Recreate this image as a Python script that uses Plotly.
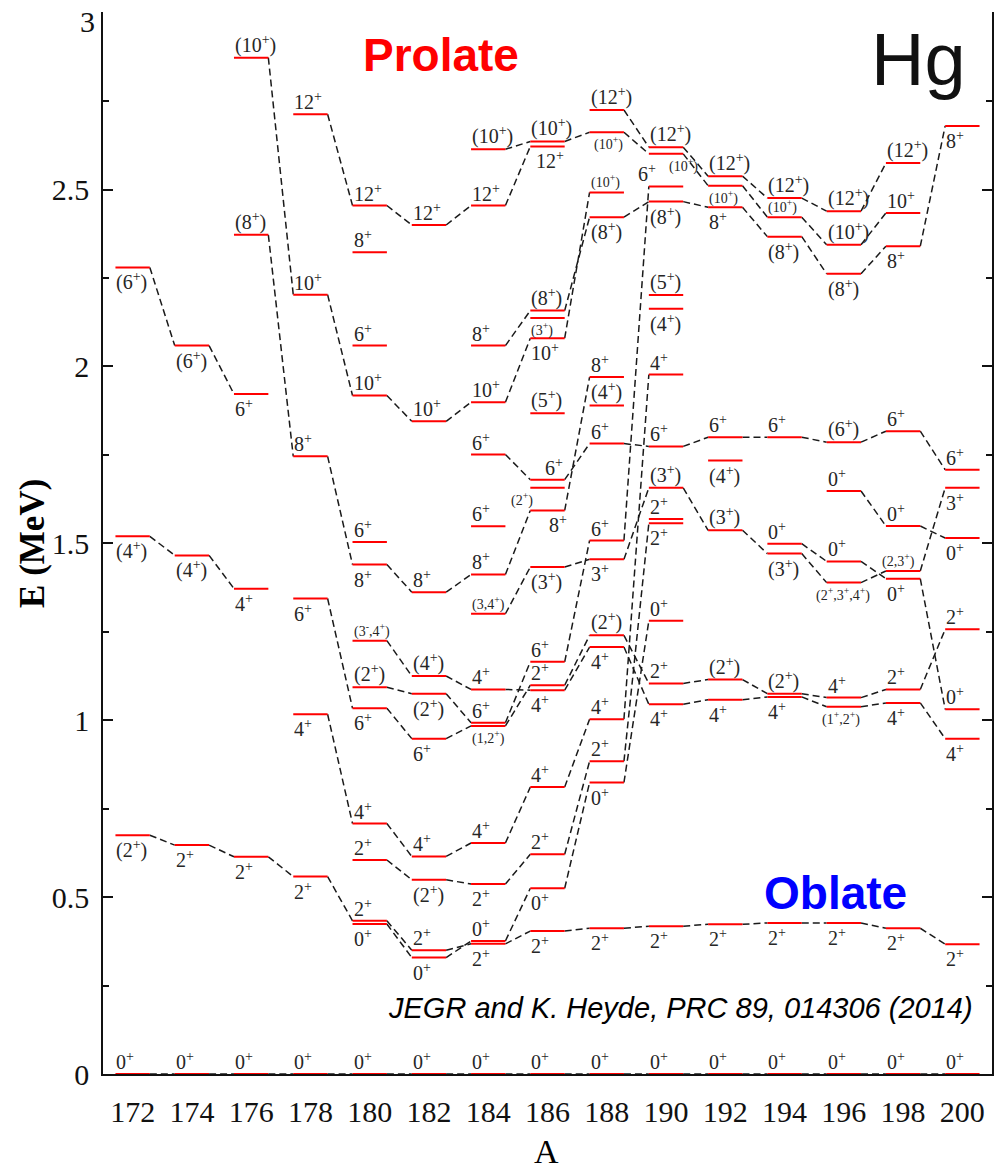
import plotly.graph_objects as go

# ---------------- DATA ----------------
MASSES = [172, 174, 176, 178, 180, 182, 184, 186, 188, 190, 192, 194, 196, 198, 200]
Y_TICKS = [0, 0.5, 1, 1.5, 2, 2.5, 3]
Y_TICK_TEXT = ["0", "0.5", "1", "1.5", "2", "2.5", "3"]

E172 = [0, 0.675, 1.520, 2.280]
J172 = ["0+", "(2+)", "(4+)", "(6+)"]
E174 = [0, 0.647, 1.466, 2.059]
J174 = ["0+", "2+", "(4+)", "(6+)"]
E176 = [0, 0.614, 1.372, 1.922, 2.372, 2.873]
J176 = ["0+", "2+", "4+", "6+", "(8+)", "(10+)"]
E178 = [0, 0.558, 1.017, 1.344, 1.746, 2.203, 2.713]
J178 = ["0+", "2+", "4+", "6+", "8+", "10+", "12+"]
E180 = [0, 0.424, 0.433, 0.605, 0.708, 1.034, 1.093, 1.225, 1.440, 1.504, 1.918, 2.059, 2.323, 2.455]
J180 = ["0+", "0+", "2+", "2+", "4+", "6+", "(2+)", "(3-,4+)", "8+", "6+", "10+", "6+", "8+", "12+"]
E182 = [0, 0.329, 0.350, 0.549, 0.615, 0.948, 1.075, 1.125, 1.362, 1.845, 2.400]
J182 = ["0+", "0+", "2+", "(2+)", "4+", "6+", "(2+)", "(4+)", "8+", "10+", "12+"]
E184 = [0, 0.368, 0.376, 0.537, 0.653, 0.984, 0.993, 1.087, 1.301, 1.412, 1.548, 1.751, 1.899, 2.059, 2.455, 2.614]
J184 = ["0+", "2+", "0+", "2+", "4+", "(1,2+)", "6+", "4+", "(3,4+)", "8+", "6+", "6+", "10+", "8+", "12+", "(10+)"]
E186 = [0, 0.404, 0.525, 0.621, 0.811, 1.085, 1.099, 1.165, 1.433, 1.593, 1.657, 1.680, 1.868, 2.080, 2.137, 2.158, 2.622, 2.636]
J186 = ["0+", "2+", "0+", "2+", "4+", "4+", "2+", "6+", "(3+)", "8+", "(2+)", "6+", "(5+)", "10+", "(3+)", "(8+)", "12+", "(10+)"]
E188 = [0, 0.412, 0.824, 0.884, 1.003, 1.207, 1.240, 1.455, 1.508, 1.782, 1.890, 1.970, 2.422, 2.492, 2.662, 2.725]
J188 = ["0+", "2+", "0+", "2+", "4+", "4+", "(2+)", "3+", "6+", "6+", "(4+)", "8+", "(8+)", "(10+)", "(10+)", "(12+)"]
E190 = [0, 0.418, 1.045, 1.104, 1.281, 1.557, 1.569, 1.657, 1.774, 1.977, 2.163, 2.202, 2.466, 2.509, 2.601, 2.620]
J190 = ["0+", "2+", "4+", "2+", "0+", "2+", "2+", "(3+)", "6+", "4+", "(4+)", "(5+)", "(8+)", "6+", "(10+)", "(12+)"]
E192 = [0, 0.423, 1.058, 1.115, 1.537, 1.734, 1.800, 2.450, 2.511, 2.538]
J192 = ["0+", "2+", "4+", "(2+)", "(3+)", "(4+)", "6+", "8+", "(10+)", "(12+)"]
E194 = [0, 0.427, 1.066, 1.075, 1.471, 1.499, 1.800, 2.367, 2.422, 2.476]
J194 = ["0+", "2+", "4+", "(2+)", "(3+)", "0+", "6+", "(8+)", "(10+)", "(12+)"]
E196 = [0, 0.427, 1.038, 1.064, 1.389, 1.449, 1.648, 1.786, 2.262, 2.344, 2.439]
J196 = ["0+", "2+", "(1+,2+)", "4+", "(2+,3+,4+)", "0+", "0+", "(6+)", "(8+)", "(10+)", "(12+)"]
E198 = [0, 0.412, 1.049, 1.087, 1.400, 1.422, 1.549, 1.817, 2.340, 2.434, 2.575]
J198 = ["0+", "2+", "4+", "2+", "0+", "(2,3+)", "0+", "6+", "8+", "10+", "(12+)"]
E200 = [0, 0.367, 0.948, 1.031, 1.257, 1.515, 1.657, 1.708, 2.680]
J200 = ["0+", "2+", "4+", "0+", "2+", "0+", "3+", "6+", "8+"]

# bands: chains of (A, E) connected by dashed lines
BAND_GROUND = [(a, 0) for a in MASSES]
BAND_OBLATE = [(172, 0.675), (174, 0.647), (176, 0.614), (178, 0.558), (180, 0.433), (182, 0.350),
               (184, 0.368), (186, 0.404), (188, 0.412), (190, 0.418), (192, 0.423), (194, 0.427),
               (196, 0.427), (198, 0.412), (200, 0.367)]
BAND_0B = [(180, 0.424), (182, 0.329), (184, 0.376), (186, 0.525), (188, 0.824), (190, 1.281)]
BAND_2B = [(180, 0.605), (182, 0.549), (184, 0.537), (186, 0.621), (188, 0.884), (190, 1.557)]
BAND_4B = [(178, 1.017), (180, 0.708), (182, 0.615), (184, 0.653), (186, 0.811), (188, 1.003), (190, 1.977)]
BAND_6A = [(178, 1.344), (180, 1.034), (182, 0.948), (184, 0.984), (186, 1.099), (188, 1.240), (190, 1.104),
           (192, 1.115), (194, 1.075), (196, 1.064), (198, 1.087), (200, 1.257)]
BAND_6B = [(180, 1.093), (182, 1.075), (184, 0.993), (186, 1.165), (188, 1.508), (190, 2.509)]
BAND_4C = [(180, 1.225), (182, 1.125), (184, 1.087), (186, 1.085), (188, 1.207), (190, 1.045), (192, 1.058),
           (194, 1.066), (196, 1.038), (198, 1.049), (200, 0.948)]
BAND_8 = [(176, 2.372), (178, 1.746), (180, 1.440), (182, 1.362), (184, 1.412), (186, 1.593), (188, 1.970)]
BAND_3 = [(184, 1.301), (186, 1.433), (188, 1.455), (190, 1.657), (192, 1.537), (194, 1.471), (196, 1.389),
          (198, 1.422), (200, 1.657)]
BAND_6C = [(184, 1.751), (186, 1.680), (188, 1.782), (190, 1.774), (192, 1.800), (194, 1.800), (196, 1.786),
           (198, 1.817), (200, 1.708)]
BAND_10 = [(176, 2.873), (178, 2.203), (180, 1.918), (182, 1.845), (184, 1.899), (186, 2.080), (188, 2.492)]
BAND_12 = [(178, 2.713), (180, 2.455), (182, 2.400), (184, 2.455), (186, 2.622)]
BAND_8B = [(184, 2.059), (186, 2.158), (188, 2.422), (190, 2.466), (192, 2.450), (194, 2.367), (196, 2.262),
           (198, 2.340), (200, 2.680)]
BAND_10B = [(184, 2.614), (186, 2.636), (188, 2.662), (190, 2.601), (192, 2.511), (194, 2.422), (196, 2.344),
            (198, 2.434)]
BAND_12B = [(188, 2.725), (190, 2.620), (192, 2.538), (194, 2.476), (196, 2.439), (198, 2.575)]
BAND_4A = [(172, 1.520), (174, 1.466), (176, 1.372)]
BAND_6D = [(172, 2.280), (174, 2.059), (176, 1.922)]
BAND_0C = [(194, 1.499), (196, 1.449), (198, 1.400), (200, 1.031)]
BAND_0D = [(196, 1.648), (198, 1.549), (200, 1.515)]

BANDS = [BAND_GROUND, BAND_OBLATE, BAND_0B, BAND_2B, BAND_4B, BAND_6A, BAND_6B, BAND_4C, BAND_8,
         BAND_3, BAND_6C, BAND_10, BAND_12, BAND_8B, BAND_10B, BAND_12B, BAND_4A, BAND_6D,
         BAND_0C, BAND_0D]

ENERGIES = [E172, E174, E176, E178, E180, E182, E184, E186, E188, E190, E192, E194, E196, E198, E200]
SPINS = [J172, J174, J176, J178, J180, J182, J184, J186, J188, J190, J192, J194, J196, J198, J200]

# ---------------- LAYOUT / STYLE ----------------
# label side for each level: a = above, b = below
SIDES = ["abbb", "abbb", "abbbaa", "abbbaaa", "abaaabaabaaaaa", "abababbaaaa",
         "abababaaaaaaaaaa", "abbaabaabbbaabbaba", "abbaababaaaababa", "abbaabaaaabababa",
         "abbaababba", "abbabaabaa", "abbabaaabaa", "abbabaaabaa", "abbaabbab"]
LABEL_DX = {(186, 1.657): -0.7, (186, 1.680): 0.47, (186, 1.593): 0.6, (186, 2.622): 0.15,
            (190, 2.509): -0.4, (190, 2.601): 0.65, (188, 2.662): 0.1, (198, 1.422): -0.15,
            (196, 1.389): -0.4, (196, 1.038): -0.2}
SMALL = {(186, 2.137), (188, 2.662), (188, 2.492), (190, 2.601), (192, 2.511), (194, 2.422),
         (186, 1.657)}
HW = 0.58
TICK_FONT = dict(family="Liberation Serif", size=30, color="#111111")

fig = go.Figure()

# level lines
lx, ly = [], []
for a, es in zip(MASSES, ENERGIES):
    for e in es:
        lx += [a - HW, a + HW, None]
        ly += [e, e, None]

# connectors
def snap(a, e):
    es = ENERGIES[MASSES.index(a)]
    return min(es, key=lambda v: abs(v - e))

cx, cy = [], []
for band in BANDS:
    for (a1, e1), (a2, e2) in zip(band[:-1], band[1:]):
        cx += [a1 + HW, a2 - HW, None]
        cy += [snap(a1, e1), snap(a2, e2), None]

fig.add_trace(go.Scatter(x=cx, y=cy, mode="lines", hoverinfo="skip",
                         line=dict(color="#1a1a1a", width=1.5, dash="7px,4px"), showlegend=False))
fig.add_trace(go.Scatter(x=lx, y=ly, mode="lines", hoverinfo="skip",
                         line=dict(color="#ff0000", width=2), showlegend=False))


def fmt(j):
    return j.replace("+", "<sup>+</sup>").replace("-", "<sup>-</sup>")


annotations = []
for a, es, js, sides in zip(MASSES, ENERGIES, SPINS, SIDES):
    for e, j, s in zip(es, js, sides):
        small = ("," in j) or ((a, e) in SMALL)
        annotations.append(dict(
            x=a - HW + LABEL_DX.get((a, e), 0.0), y=e, xref="x", yref="y",
            text=fmt(j), showarrow=False, xanchor="left",
            yanchor="bottom" if s == "a" else "top",
            yshift=0 if s == "a" else -1,
            font=dict(family="Liberation Serif", size=14 if small else 20, color="#262626"),
            borderpad=0))

# the top tick label is drawn as an annotation so that it stays inside the page
tick_text = list(Y_TICK_TEXT)
top_label = tick_text[-1]
tick_text[-1] = ""
annotations.append(dict(x=0, y=Y_TICKS[-1], xref="paper", yref="y", text=top_label, showarrow=False,
                        xanchor="right", yanchor="middle", xshift=-7, yshift=-9, font=TICK_FONT,
                        borderpad=0))

annotations += [
    dict(x=0.380, y=0.9595, xref="paper", yref="paper", text="<b>Prolate</b>", showarrow=False,
         font=dict(family="Liberation Sans", size=46, color="#ff0000"), xanchor="center", yanchor="middle"),
    dict(x=0.9168, y=0.955, xref="paper", yref="paper", text="Hg", showarrow=False,
         font=dict(family="Liberation Sans", size=74, color="#111111"), xanchor="center", yanchor="middle"),
    dict(x=0.8245, y=0.1704, xref="paper", yref="paper", text="<b>Oblate</b>", showarrow=False,
         font=dict(family="Liberation Sans", size=46, color="#0000ff"), xanchor="center", yanchor="middle"),
    dict(x=0.650, y=0.0621, xref="paper", yref="paper",
         text="<i>JEGR and K. Heyde, PRC 89, 014306 (2014)</i>", showarrow=False,
         font=dict(family="Liberation Sans", size=29, color="#000000"), xanchor="center", yanchor="middle"),
    dict(x=-0.0799, y=0.5, xref="paper", yref="paper", text="<b>E (MeV)</b>", showarrow=False,
         textangle=-90, font=dict(family="Liberation Serif", size=35, color="#000000"),
         xanchor="center", yanchor="middle"),
    dict(x=0.4994, y=-0.0734, xref="paper", yref="paper", text="A", showarrow=False,
         font=dict(family="Liberation Serif", size=34, color="#000000"), xanchor="center", yanchor="middle"),
]

fig.update_layout(
    width=1001, height=1165,
    margin=dict(l=103, r=9, t=12, b=91, autoexpand=False),
    paper_bgcolor="white", plot_bgcolor="white",
    annotations=annotations,
    xaxis=dict(range=[171, 201], tickvals=MASSES, ticktext=[str(m) for m in MASSES],
               showline=True, linecolor="#111111", linewidth=1.5, ticks="", showgrid=False,
               zeroline=False, mirror=False, ticklabelstandoff=10, automargin=False,
               tickfont=TICK_FONT),
    yaxis=dict(range=[0, 3.002], tickvals=Y_TICKS, ticktext=tick_text, showline=True,
               linecolor="#111111", linewidth=1.5, ticklabeloverflow="allow", automargin=False,
               ticks="inside", ticklen=10, tickwidth=1.5, tickcolor="#111111", mirror="ticks",
               showgrid=False, zeroline=False, ticklabelstandoff=6,
               minor=dict(dtick=0.25, tick0=0, ticks="inside", ticklen=6, tickwidth=1.5,
                          tickcolor="#111111", showgrid=False),
               tickfont=TICK_FONT),
)

fig.write_html("out.html")
